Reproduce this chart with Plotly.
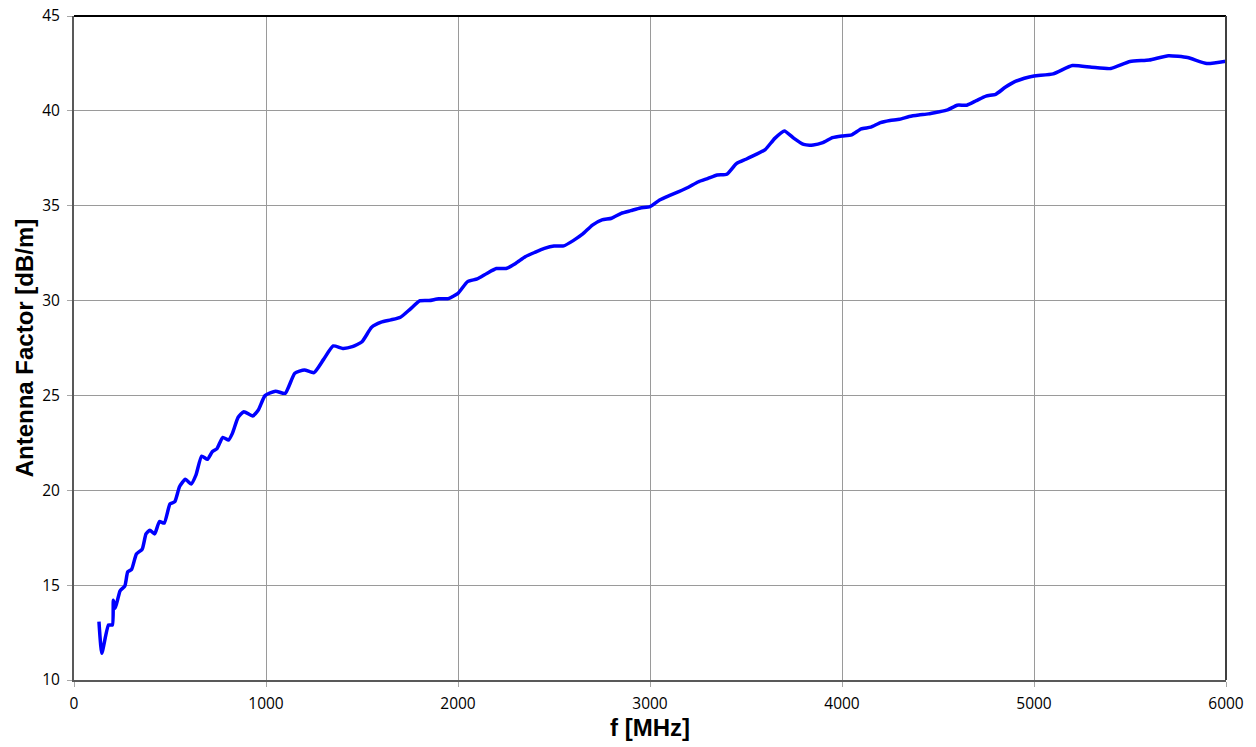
import plotly.graph_objects as go

freq_mhz = [130, 145, 180, 200, 205, 215, 240, 265, 280, 300, 325, 355, 375, 395, 420,
            445, 470, 500, 525, 550, 580, 610, 635, 665, 695, 720, 745, 775, 805, 825,
            855, 885, 930, 960, 995, 1050, 1100, 1150, 1200, 1250, 1300, 1350, 1400,
            1450, 1500, 1550, 1600, 1650, 1700, 1750, 1800, 1850, 1900, 1950, 2000,
            2050, 2100, 2150, 2200, 2250, 2300, 2350, 2400, 2450, 2500, 2550, 2600,
            2650, 2700, 2750, 2800, 2850, 2900, 2950, 3000, 3050, 3100, 3150, 3200,
            3250, 3300, 3350, 3400, 3450, 3500, 3550, 3600, 3650, 3700, 3750, 3800,
            3850, 3900, 3950, 4000, 4050, 4100, 4150, 4200, 4250, 4300, 4350, 4400,
            4450, 4500, 4550, 4600, 4650, 4700, 4750, 4800, 4850, 4900, 4950, 5000,
            5100, 5200, 5300, 5400, 5500, 5600, 5700, 5800, 5900, 6000]
antenna_factor = [13.08, 11.41, 12.9, 12.9, 14.2, 13.78, 14.7, 14.96, 15.7, 15.83,
                  16.64, 16.89, 17.7, 17.9, 17.7, 18.35, 18.27, 19.28, 19.4, 20.2,
                  20.58, 20.33, 20.8, 21.8, 21.63, 22.03, 22.2, 22.79, 22.65, 23.0,
                  23.85, 24.14, 23.92, 24.23, 24.99, 25.22, 25.11, 26.17, 26.34, 26.2,
                  26.9, 27.61, 27.48, 27.57, 27.83, 28.59, 28.86, 28.98, 29.12, 29.54,
                  29.98, 30.0, 30.1, 30.1, 30.38, 31.0, 31.14, 31.43, 31.69, 31.69,
                  31.96, 32.31, 32.54, 32.75, 32.88, 32.88, 33.16, 33.51, 33.98, 34.25,
                  34.34, 34.6, 34.74, 34.88, 34.95, 35.3, 35.53, 35.74, 35.97, 36.25,
                  36.43, 36.62, 36.66, 37.22, 37.45, 37.69, 37.96, 38.55, 38.94, 38.55,
                  38.23, 38.2, 38.32, 38.59, 38.68, 38.73, 39.05, 39.14, 39.38, 39.49,
                  39.56, 39.7, 39.78, 39.84, 39.94, 40.05, 40.3, 40.3, 40.54, 40.78,
                  40.87, 41.24, 41.54, 41.72, 41.84, 41.95, 42.39, 42.3, 42.23, 42.6,
                  42.68, 42.91, 42.81, 42.5, 42.62]

x_ticks = [0, 1000, 2000, 3000, 4000, 5000, 6000]
y_ticks = [10, 15, 20, 25, 30, 35, 40, 45]

fig = go.Figure()
fig.add_trace(go.Scatter(x=freq_mhz, y=antenna_factor, mode="lines",
                         line=dict(color="#0000FF", width=3.5, shape="spline", smoothing=0.5),
                         showlegend=False))

tick_font = dict(family="Open Sans, Liberation Sans, Arial", size=15.5, color="#000000")
title_font = dict(family="Liberation Sans, Arial", size=24, color="#000000")

fig.update_layout(
    width=1256, height=747,
    margin=dict(l=74, r=30, t=16, b=67),
    plot_bgcolor="white", paper_bgcolor="white",
    xaxis=dict(range=[0, 6000], tickvals=x_ticks, ticktext=[str(v) for v in x_ticks],
               showgrid=True, gridcolor="#9a9a9a", gridwidth=1,
               showline=True, linecolor="#595959", linewidth=2,
               ticks="outside", ticklen=5, tickcolor="#a6a6a6", tickwidth=1,
               tickfont=tick_font, zeroline=False, automargin=False,
               ticklabelstandoff=3,
               title=dict(text="<b>f [MHz]</b>", font=title_font, standoff=6)),
    yaxis=dict(range=[10, 45], tickvals=y_ticks, ticktext=[str(v) for v in y_ticks],
               showgrid=True, gridcolor="#9a9a9a", gridwidth=1,
               showline=True, linecolor="#595959", linewidth=2,
               ticks="outside", ticklen=5, tickcolor="#a6a6a6", tickwidth=1,
               tickfont=tick_font, zeroline=False, automargin=False,
               ticklabelstandoff=4,
               title=dict(text="<b>Antenna Factor [dB/m]</b>", font=title_font, standoff=2)),
)
fig.add_shape(type="line", xref="paper", yref="paper", x0=0, x1=1, y0=1, y1=1,
              line=dict(color="#000000", width=2))
fig.add_shape(type="line", xref="paper", yref="paper", x0=1, x1=1, y0=0, y1=1,
              line=dict(color="#404040", width=2))

fig.write_html("out.html", config={"displayModeBar": False},
               post_script="document.body.style.margin='0';")
